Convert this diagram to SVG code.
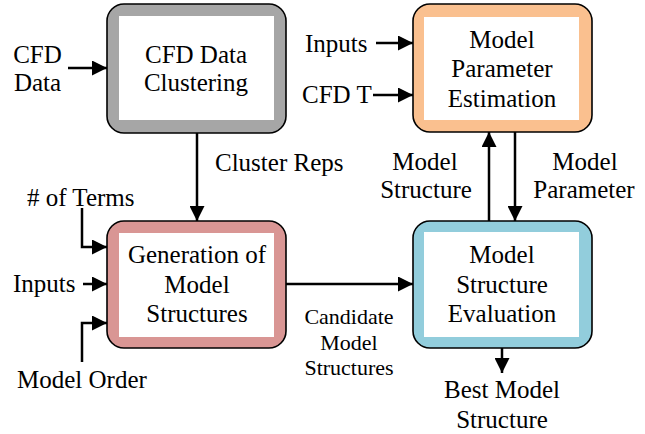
<svg xmlns="http://www.w3.org/2000/svg" width="645" height="434" viewBox="0 0 645 434">
<style>
text{font-family:"Liberation Serif","Times New Roman",serif;font-size:25px;fill:#000}
.c{text-anchor:middle}
.s{font-size:22px}
.frame{stroke:#000;stroke-width:1.6}
.in{fill:#fff}
.ln{stroke:#000;stroke-width:2.5;fill:none}
</style>
<defs>
<marker id="ah" markerWidth="15" markerHeight="15" viewBox="0 0 15 15" refX="15" refY="7.5" orient="auto" markerUnits="userSpaceOnUse">
<path d="M0,0 L15,7.5 L0,15 Z" fill="#000"/>
</marker>
</defs>
<rect width="645" height="434" fill="#fff"/>
<g id="connectors">
<path class="ln" d="M68,68 H107" marker-end="url(#ah)"/>
<path class="ln" d="M197,133 V221" marker-end="url(#ah)"/>
<path class="ln" d="M82,208 V247 H107" marker-end="url(#ah)"/>
<path class="ln" d="M83,284 H107" marker-end="url(#ah)"/>
<path class="ln" d="M82,362 V323 H107" marker-end="url(#ah)"/>
<path class="ln" d="M286,284 H413" marker-end="url(#ah)"/>
<path class="ln" d="M502,348 V373" marker-end="url(#ah)"/>
<path class="ln" d="M489,221 V132" marker-end="url(#ah)"/>
<path class="ln" d="M515,132 V221" marker-end="url(#ah)"/>
<path class="ln" d="M376,43 H413" marker-end="url(#ah)"/>
<path class="ln" d="M373,95 H413" marker-end="url(#ah)"/>
</g>
<g id="labels">
<text class="c" x="37.5" y="63">CFD</text>
<text class="c" x="37.5" y="91">Data</text>
<text x="215" y="171">Cluster Reps</text>
<text x="27" y="206"># of Terms</text>
<text x="13" y="292">Inputs</text>
<text x="17" y="388">Model Order</text>
<text class="c s" x="349" y="324">Candidate</text>
<text class="c s" x="349" y="350">Model</text>
<text class="c s" x="349" y="375">Structures</text>
<text class="c" x="502" y="398">Best Model</text>
<text class="c" x="502" y="428">Structure</text>
<text class="c" x="425" y="170">Model</text>
<text class="c" x="426" y="198">Structure</text>
<text class="c" x="585" y="170">Model</text>
<text class="c" x="584" y="198">Parameter</text>
<text x="305" y="52">Inputs</text>
<text x="302" y="103">CFD T</text>
</g>
<g id="clustering">
<rect class="frame" x="107" y="4" width="179" height="129" rx="17" fill="#a6a6a6"/>
<rect class="in" x="119" y="16" width="155" height="104"/>
<text class="c" x="196" y="63">CFD Data</text>
<text class="c" x="196" y="91">Clustering</text>
</g>
<g id="estimation">
<rect class="frame" x="413" y="4" width="179" height="128" rx="17" fill="#fac08f"/>
<rect class="in" x="424" y="17" width="155" height="103"/>
<text class="c" x="502" y="48">Model</text>
<text class="c" x="502" y="77">Parameter</text>
<text class="c" x="502" y="107">Estimation</text>
</g>
<g id="generation">
<rect class="frame" x="107" y="221" width="179" height="127" rx="17" fill="#d99694"/>
<rect class="in" x="119" y="233" width="155" height="104"/>
<text class="c" x="197" y="263">Generation of</text>
<text class="c" x="197" y="293">Model</text>
<text class="c" x="197" y="322">Structures</text>
</g>
<g id="evaluation">
<rect class="frame" x="413" y="221" width="179" height="127" rx="17" fill="#92cddc"/>
<rect class="in" x="424" y="232" width="155" height="105"/>
<text class="c" x="502" y="263">Model</text>
<text class="c" x="502" y="293">Structure</text>
<text class="c" x="502" y="322">Evaluation</text>
</g>
</svg>
